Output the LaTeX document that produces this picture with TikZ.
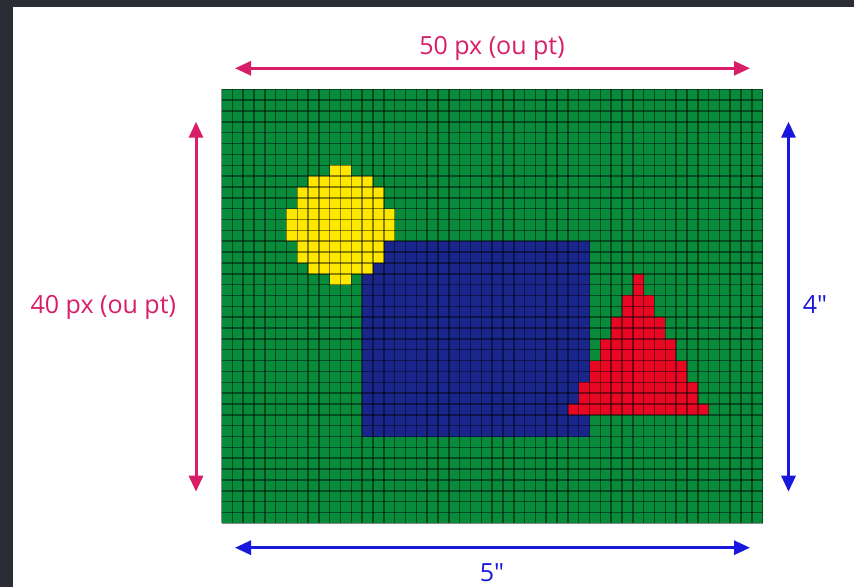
\documentclass[tikz,border=0pt]{standalone}
\usepackage{fontspec}
\newfontfamily\lblfont{Open Sans}
\usetikzlibrary{arrows.meta}
\definecolor{framec}{RGB}{43,45,52}
\definecolor{magc}{RGB}{216,30,104}
\definecolor{bluec}{RGB}{24,24,220}
\definecolor{greenc}{RGB}{8,140,60}
\definecolor{navyc}{RGB}{26,38,140}
\definecolor{yellowc}{RGB}{255,232,0}
\definecolor{redc}{RGB}{232,8,36}
\begin{document}
\begin{tikzpicture}[x=1pt,y=-1pt,
  dimline/.style={line width=3pt, {Triangle[length=16pt,width=14pt]}-{Triangle[length=16pt,width=14pt]}},
  lbl/.style={font=\lblfont\fontsize{25}{30}\selectfont, anchor=base, inner sep=0pt},
  gridline/.style={line width=1.5pt, draw=black, draw opacity=0.45}]
\useasboundingbox (0,0) rectangle (854,587);
\fill[white] (0,0) rectangle (854,587);
\fill[framec] (0,0) rectangle (854,7);
\fill[framec] (0,0) rectangle (13,587);
\begin{scope}[shift={(221.5pt,-89.3pt)}, x=10.824pt, y=-10.85pt]
  \fill[greenc] (0,0) rectangle (50,40);
  \fill[navyc] (13,14) rectangle (34,32);
  \foreach \r/\a/\b in {7/10/11, 8/8/13, 9/7/14, 10/7/14, 11/6/15, 12/6/15, 13/6/15, 14/7/14, 15/7/14, 16/8/13, 17/10/11}
    \fill[yellowc] (\a,\r) rectangle (\b+1,\r+1);
  \foreach \r/\a/\b in {17/38/38, 18/38/38, 19/37/39, 20/37/39, 21/36/40, 22/36/40, 23/35/41, 24/35/41, 25/34/42, 26/34/42, 27/33/43, 28/33/43, 29/32/44}
    \fill[redc] (\a,\r) rectangle (\b+1,\r+1);
  \foreach \i in {0,...,50} \draw[gridline] (\i,0) -- (\i,40);
  \foreach \j in {0,...,40} \draw[gridline] (0,\j) -- (50,\j);
\end{scope}
\coordinate (topL) at (235,68.3);
\coordinate (topR) at (750,68.3);
\coordinate (botL) at (235,547.7);
\coordinate (botR) at (750,547.7);
\coordinate (leftT) at (196,121.7);
\coordinate (leftB) at (196,491.7);
\coordinate (rightT) at (788.5,121.7);
\coordinate (rightB) at (788.5,491.7);
\draw[magc, dimline] (topL) -- (topR);
\draw[magc, dimline] (leftT) -- (leftB);
\draw[bluec, dimline] (botL) -- (botR);
\draw[bluec, dimline] (rightT) -- (rightB);
\node[lbl, text=magc] (toplbl) at (492,54.5) {50 px (ou pt)};
\node[lbl, text=magc] (leftlbl) at (103.3,313.3) {40 px (ou pt)};
\node[lbl, text=bluec] (rightlbl) at (815,313.3) {4"};
\node[lbl, text=bluec] (botlbl) at (492,581) {5"};
\end{tikzpicture}
\end{document}
